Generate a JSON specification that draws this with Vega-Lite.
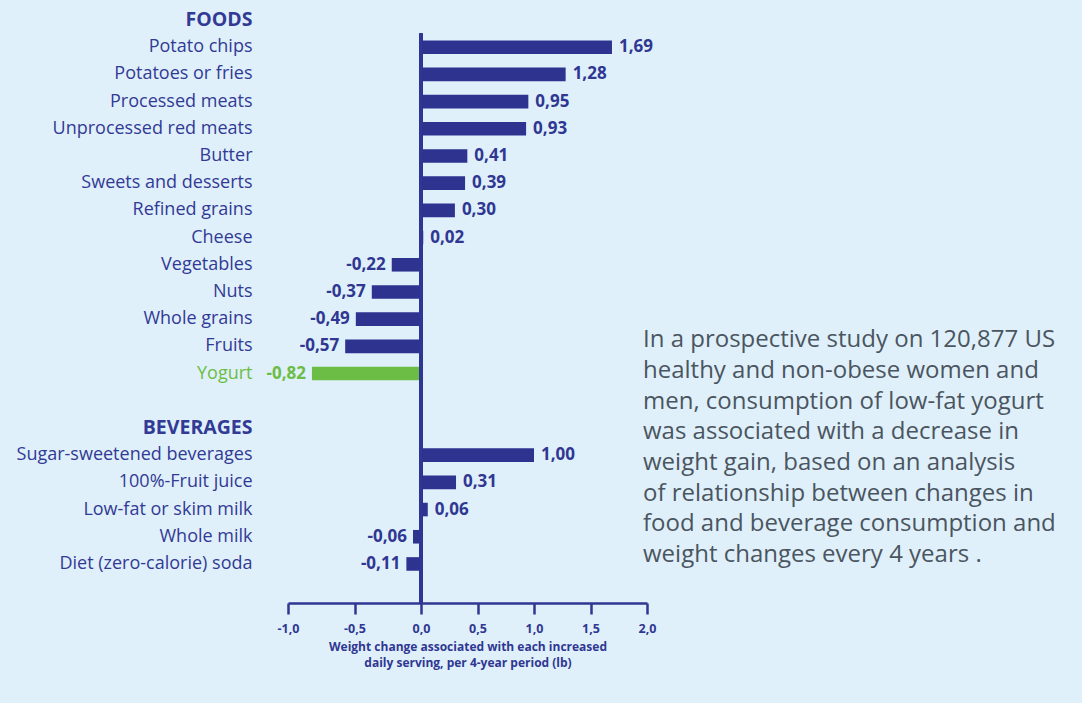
{
  "$schema": "https://vega.github.io/schema/vega-lite/v6.json",
  "background": "#dff0fa",
  "padding": {"left": 0, "top": 3, "right": 0, "bottom": 34},
  "autosize": {"type": "pad"},
  "config": {
    "view": {"stroke": null},
    "font": "Open Sans",
    "locale": {"number": {"decimal": ",", "thousands": ".", "grouping": [3], "currency": ["", ""], "minus": "-"}}
  },
  "datasets": {
    "bars": [
      {"item": "Potato chips", "value": 1.69},
      {"item": "Potatoes or fries", "value": 1.28},
      {"item": "Processed meats", "value": 0.95},
      {"item": "Unprocessed red meats", "value": 0.93},
      {"item": "Butter", "value": 0.41},
      {"item": "Sweets and desserts", "value": 0.39},
      {"item": "Refined grains", "value": 0.30},
      {"item": "Cheese", "value": 0.02},
      {"item": "Vegetables", "value": -0.22},
      {"item": "Nuts", "value": -0.37},
      {"item": "Whole grains", "value": -0.49},
      {"item": "Fruits", "value": -0.57},
      {"item": "Yogurt", "value": -0.82},
      {"item": "Sugar-sweetened beverages", "value": 1.00},
      {"item": "100%-Fruit juice", "value": 0.31},
      {"item": "Low-fat or skim milk", "value": 0.06},
      {"item": "Whole milk", "value": -0.06},
      {"item": "Diet (zero-calorie) soda", "value": -0.11}
    ],
    "para": [
      {"line": 1, "text": "In a prospective study on 120,877 US"},
      {"line": 2, "text": "healthy and non-obese women and"},
      {"line": 3, "text": "men, consumption of low-fat yogurt"},
      {"line": 4, "text": "was associated with a decrease in"},
      {"line": 5, "text": "weight gain, based on an analysis"},
      {"line": 6, "text": "of relationship between changes in"},
      {"line": 7, "text": "food and beverage consumption and"},
      {"line": 8, "text": "weight changes every 4 years   ."}
    ]
  },
  "hconcat": [
    {
      "width": 359,
      "height": 600,
      "data": {"name": "bars"},
      "encoding": {
        "y": {
          "field": "item",
          "type": "nominal",
          "sort": null,
          "scale": {
            "domain": ["FOODS", "Potato chips", "Potatoes or fries", "Processed meats", "Unprocessed red meats", "Butter", "Sweets and desserts", "Refined grains", "Cheese", "Vegetables", "Nuts", "Whole grains", "Fruits", "Yogurt", " ", "BEVERAGES", "Sugar-sweetened beverages", "100%-Fruit juice", "Low-fat or skim milk", "Whole milk", "Diet (zero-calorie) soda"],
            "paddingInner": 0.5,
            "paddingOuter": 0.78,
            "align": 0.24
          },
          "axis": {
            "title": null,
            "domain": false,
            "ticks": false,
            "labelPadding": 36,
            "minExtent": 288,
            "maxExtent": 288,
            "labelLimit": 300,
            "labelFont": "Open Sans",
            "labelFontSize": {"condition": {"test": "datum.value === 'FOODS' || datum.value === 'BEVERAGES'", "value": 19.5}, "value": 18},
            "labelFontWeight": {"condition": {"test": "datum.value === 'FOODS' || datum.value === 'BEVERAGES'", "value": "bold"}, "value": "normal"},
            "labelColor": {"condition": {"test": "datum.value === 'Yogurt'", "value": "#6cbd45"}, "value": "#323a95"}
          }
        },
        "x": {
          "field": "value",
          "type": "quantitative",
          "scale": {"domain": [-1, 0, 2], "range": [0, 133, 359], "nice": false, "zero": false},
          "axis": {
            "values": [-1, -0.5, 0, 0.5, 1, 1.5, 2],
            "format": ".1f",
            "grid": false,
            "labelFlush": false,
            "domainColor": "#2f3792",
            "domainWidth": 2.5,
            "tickColor": "#2f3792",
            "tickWidth": 2.5,
            "tickSize": 11,
            "labelColor": "#2f3792",
            "labelFontWeight": "bold",
            "labelFontSize": 12.5,
            "labelPadding": 8,
            "title": ["Weight change associated with each increased", "daily serving, per 4-year period (lb)"],
            "titleColor": "#2f3792",
            "titleFontSize": 12,
            "titleFontWeight": "bold",
            "titlePadding": 7,
            "titleLineHeight": 16
          }
        }
      },
      "layer": [
        {
          "mark": {"type": "bar"},
          "encoding": {
            "x2": {"datum": 0},
            "color": {"condition": {"test": "datum.item === 'Yogurt'", "value": "#6cbd45"}, "value": "#2e3390"}
          }
        },
        {
          "transform": [{"filter": "datum.value >= 0"}],
          "mark": {"type": "text", "align": "left", "baseline": "middle", "dx": 7, "fontSize": 17, "fontWeight": "bold", "font": "Open Sans"},
          "encoding": {
            "text": {"field": "value", "type": "quantitative", "format": ".2f"},
            "color": {"condition": {"test": "datum.item === 'Yogurt'", "value": "#6cbd45"}, "value": "#2f3792"}
          }
        },
        {
          "transform": [{"filter": "datum.value < 0"}],
          "mark": {"type": "text", "align": "right", "baseline": "middle", "dx": -6, "fontSize": 17, "fontWeight": "bold", "font": "Open Sans"},
          "encoding": {
            "text": {"field": "value", "type": "quantitative", "format": ".2f"},
            "color": {"condition": {"test": "datum.item === 'Yogurt'", "value": "#6cbd45"}, "value": "#2f3792"}
          }
        },
        {
          "mark": {"type": "rule", "color": "#2f3792", "strokeWidth": 2.5},
          "encoding": {
            "x": {"datum": 0},
            "y": {"datum": "FOODS", "bandPosition": 1.5},
            "y2": {"value": {"expr": "height"}}
          }
        }
      ]
    },
    {
      "width": 435,
      "height": 600,
      "data": {"name": "para"},
      "mark": {"type": "text", "align": "left", "baseline": "middle", "dx": -4, "fontSize": 24, "font": "Open Sans", "color": "#4b5560"},
      "encoding": {
        "x": {"datum": 0, "type": "quantitative", "scale": {"domain": [0, 1]}, "axis": null},
        "y": {"field": "line", "type": "quantitative", "scale": {"domain": [-9.98, 9.56], "reverse": true, "nice": false, "zero": false}, "axis": null},
        "text": {"field": "text"}
      }
    }
  ],
  "spacing": 0,
  "bounds": "flush"
}
